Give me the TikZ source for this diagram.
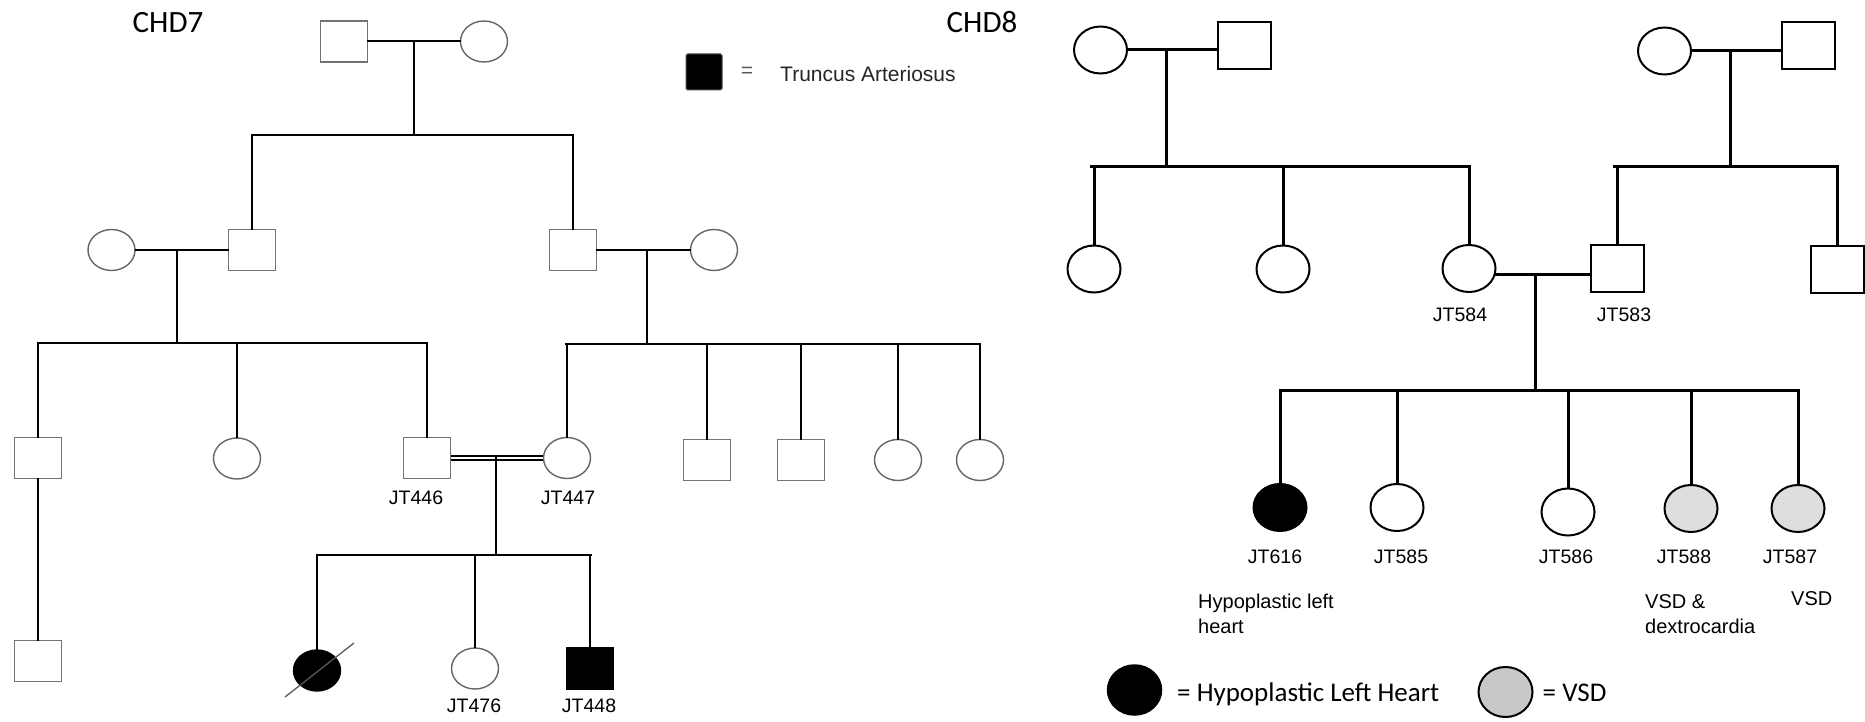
\documentclass[tikz,border=0pt]{standalone}
\usepackage{fontspec}
\setmainfont{Liberation Sans}
\newfontfamily\calib{Carlito}
\usetikzlibrary{shapes.geometric}
\definecolor{vsdkid}{HTML}{DEDEDE}
\definecolor{vsdkey}{HTML}{C8C8C8}
\begin{document}
\begin{tikzpicture}[x=1pt,y=-1pt,
  lline/.style={line width=2pt, black, line cap=rect},
  rline/.style={line width=3pt, black, line cap=rect},
  dblline/.style={double=white, double distance=2.6pt, line width=1.5pt, black},
  lsq/.style={rectangle, draw=black!55, line width=1.4pt, fill=white, inner sep=0pt, minimum width=47pt, minimum height=41pt},
  lcirc/.style={ellipse, draw=black!60, line width=1.4pt, fill=white, inner sep=0pt, minimum width=47pt, minimum height=41pt},
  rsq/.style={rectangle, draw=black, line width=2pt, fill=white, inner sep=0pt, minimum width=53pt, minimum height=47pt},
  rcirc/.style={ellipse, draw=black, line width=2pt, fill=white, inner sep=0pt, minimum width=53pt, minimum height=47pt},
  idl/.style={inner sep=0pt, font=\fontsize{19.5}{23}\selectfont},
  note/.style={inner sep=0pt, anchor=base west, font=\fontsize{20}{24}\selectfont},
  title/.style={inner sep=0pt, font=\calib\fontsize{31}{36}\selectfont},
  keytext/.style={inner sep=0pt, anchor=base west, font=\calib\fontsize{27}{32}\selectfont}
]
\useasboundingbox (0,0) rectangle (1865,722);

% ---------------- CHD7 family ----------------
\node[title] (t7) at (168,23) {CHD7};

% generation I
\node[lsq] (a1) at (344,41.5) {};
\node[lcirc] (a2) at (484,41.5) {};
\draw[lline] (a1) -- (a2);
\coordinate (a12) at (414,41.5);
\coordinate (sbA) at (252,135);
\coordinate (sbAr) at (573,135);
\draw[lline] (a12) -- (a12 |- sbA);
\draw[lline] (sbA) -- (sbAr);

% generation II
\node[lcirc] (b0) at (111.5,250) {};
\node[lsq] (b1) at (252,250) {};
\node[lsq] (b2) at (573,250) {};
\node[lcirc] (b3) at (714,250) {};
\draw[lline] (b1.north) -- (b1.north |- sbA);
\draw[lline] (b2.north) -- (b2.north |- sbAr);
\draw[lline] (b0) -- (b1);
\draw[lline] (b2) -- (b3);
\coordinate (b01) at (177,250);
\coordinate (b23) at (647,250);
\coordinate (sbB) at (38,343);
\coordinate (sbBr) at (427,343);
\coordinate (sbC) at (566,344);
\coordinate (sbCr) at (980,344);
\draw[lline] (b01) -- (b01 |- sbB);
\draw[lline] (sbB) -- (sbBr);
\draw[lline] (b23) -- (b23 |- sbC);
\draw[lline] (sbC) -- (sbCr);

% generation III
\node[lsq] (c1) at (38,458) {};
\node[lcirc] (c2) at (237,458.5) {};
\node[lsq] (jt446) at (427,458) {};
\node[lcirc] (jt447) at (567,458) {};
\node[lsq] (c5) at (707,460) {};
\node[lsq] (c6) at (801,460) {};
\node[lcirc] (c7) at (898,460) {};
\node[lcirc] (c8) at (980,460) {};
\foreach \n in {c1,c2,jt446}
  \draw[lline] (\n.north) -- (\n.north |- sbB);
\foreach \n in {jt447,c5,c6,c7,c8}
  \draw[lline] (\n.north) -- (\n.north |- sbC);
\draw[dblline] (jt446) -- (jt447);
\node[idl] (l446) at (416,498) {JT446};
\node[idl] (l447) at (568,498) {JT447};

% generation IV
\node[lsq] (d0) at (38,661) {};
\draw[lline] (c1) -- (d0);
\coordinate (cc) at (495.5,458);
\coordinate (sbD) at (317,555);
\coordinate (sbDr) at (591,555);
\draw[lline] (cc) -- (cc |- sbD);
\draw[lline] (sbD) -- (sbDr);
\node[lcirc, fill=black, draw=black] (d1) at (317,670.5) {};
\node[lcirc] (jt476) at (475,668.5) {};
\node[lsq, fill=black, draw=black] (jt448) at (590,668.5) {};
\foreach \n in {d1,jt476,jt448}
  \draw[lline] (\n.north) -- (\n.north |- sbD);
\coordinate (dz1) at (285,697);
\coordinate (dz2) at (354,643);
\draw[line width=1.3pt, black!65] (dz1) -- (dz2);
\node[idl] (l476) at (474,706) {JT476};
\node[idl] (l448) at (589,706) {JT448};

% key
\node[rectangle, fill=black, draw=black!70, line width=1pt, rounded corners=1.5pt,
      inner sep=0pt, minimum size=36pt] (kTA) at (704,72) {};
\node[inner sep=0pt, font=\fontsize{21}{24}\selectfont, text=black!65] (kTAeq) at (747,72) {=};
\node[inner sep=0pt, anchor=west, font=\fontsize{21}{24}\selectfont, text=black!85] (kTAt) at (780,74) {Truncus Arteriosus};

% ---------------- CHD8 family ----------------
\node[title] (t8) at (982,22) {CHD8};

% maternal grandparents
\node[rcirc] (e1) at (1100.5,50) {};
\node[rsq] (e2) at (1244.5,45.5) {};
\draw[rline] (e1.east) -- (e1.east -| e2.west);
\coordinate (e12) at (1166,50);
\coordinate (sbE) at (1091,167);
\coordinate (sbEr) at (1467,167);
\draw[rline] (e12) -- (e12 |- sbE);
\draw[rline] (sbE) -- (sbEr);

% paternal grandparents
\node[rcirc] (f1) at (1664.5,51) {};
\node[rsq] (f2) at (1808.5,46) {};
\draw[rline] (f1.east) -- (f1.east -| f2.west);
\coordinate (f12) at (1730,51);
\coordinate (sbF) at (1614,167);
\coordinate (sbFr) at (1837,167);
\draw[rline] (f12) -- (f12 |- sbF);
\draw[rline] (sbF) -- (sbFr);

% parents and their siblings
\node[rcirc] (g1) at (1094,269) {};
\node[rcirc] (g2) at (1283,269) {};
\node[rcirc] (jt584) at (1469,268.5) {};
\node[rsq] (jt583) at (1617,268) {};
\node[rsq] (g5) at (1837,269.5) {};
\foreach \n in {g1,g2,jt584}
  \draw[rline] (\n.north) -- (\n.north |- sbE);
\foreach \n in {jt583,g5}
  \draw[rline] (\n.north) -- (\n.north |- sbF);
\coordinate (pm) at (1535,274);
\draw[rline] (jt584.east |- pm) -- (jt583.west |- pm);
\node[idl] (l584) at (1460,315) {JT584};
\node[idl] (l583) at (1624,315) {JT583};

% children
\coordinate (sbG) at (1281,390);
\coordinate (sbGr) at (1798,390);
\draw[rline] (pm) -- (pm |- sbG);
\draw[rline] (sbG) -- (sbGr);
\node[rcirc, fill=black] (jt616) at (1280,507.5) {};
\node[rcirc] (jt585) at (1397,507.5) {};
\node[rcirc] (jt586) at (1568,512) {};
\node[rcirc, fill=vsdkid] (jt588) at (1691,508.5) {};
\node[rcirc, fill=vsdkid] (jt587) at (1798,508.5) {};
\foreach \n in {jt616,jt585,jt586,jt588,jt587}
  \draw[rline] (\n.north) -- (\n.north |- sbG);
\node[idl] (l616) at (1275,557) {JT616};
\node[idl] (l585) at (1401,557) {JT585};
\node[idl] (l586) at (1566,557) {JT586};
\node[idl] (l588) at (1684,557) {JT588};
\node[idl] (l587) at (1790,557) {JT587};

% phenotype notes
\node[note] (n616a) at (1198,608) {Hypoplastic left};
\node[note] (n616b) at (1198,633) {heart};
\node[note] (n588a) at (1645,608) {VSD \&};
\node[note] (n588b) at (1645,633) {dextrocardia};
\node[note] (n587) at (1791,605) {VSD};

% key
\node[ellipse, fill=black, draw=black, line width=1.5pt, inner sep=0pt,
      minimum width=54pt, minimum height=50pt] (kH) at (1134.5,690) {};
\node[keytext] (kHt) at (1177,701) {= Hypoplastic Left Heart};
\node[ellipse, fill=vsdkey, draw=black, line width=2pt, inner sep=0pt,
      minimum width=54pt, minimum height=50pt] (kV) at (1505.5,692) {};
\node[keytext] (kVt) at (1542.5,701) {= VSD};
\end{tikzpicture}
\end{document}
